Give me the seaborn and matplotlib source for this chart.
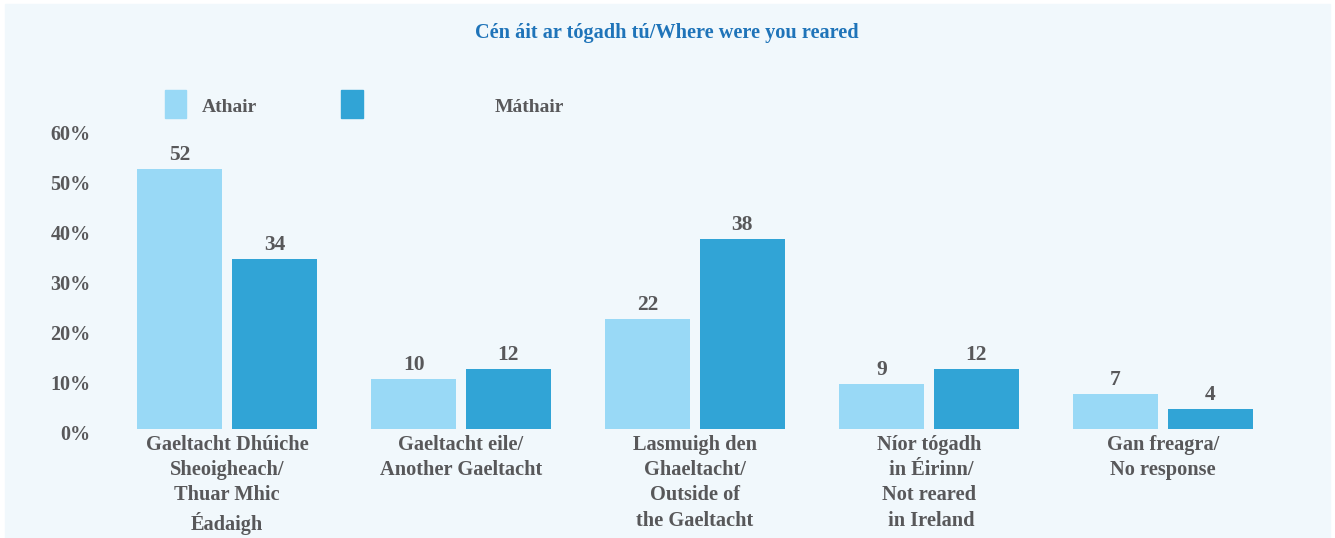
import pandas as pd
import seaborn as sns
import matplotlib.pyplot as plt
import matplotlib.transforms as mtransforms
from matplotlib.patches import Rectangle

categories = ['Gaeltacht Dhúiche\nSheoigheach/\nThuar Mhic\nÉadaigh',
              'Gaeltacht eile/\nAnother Gaeltacht',
              'Lasmuigh den\nGhaeltacht/\nOutside of\nthe Gaeltacht',
              'Níor tógadh\n in Éirinn/\nNot reared\n in Ireland',
              'Gan freagra/\nNo response']
athair = [52, 10, 22, 9, 7]
mathair = [34, 12, 38, 12, 4]
series = ['Athair', 'Máthair']
yticks = [0, 10, 20, 30, 40, 50, 60]

LIGHT = '#99d9f6'
DARK = '#31a4d6'
BG = '#f1f8fc'
GREY = '#58585a'
TITLE = '#1f74b9'
FS = 14

df = pd.DataFrame({
    'cat': categories * 2,
    'value': athair + mathair,
    'who': [series[0]] * len(athair) + [series[1]] * len(mathair),
})

sns.set_style('white')
plt.rcParams['font.family'] = ['Liberation Serif', 'DejaVu Serif']
plt.rcParams['font.weight'] = 'bold'

W, H = 1335, 538
fig = plt.figure(figsize=(W / 100, H / 100), dpi=100, facecolor='white')
# light panel behind everything
fig.patches.append(Rectangle((5 / W, 0), (1330 - 5) / W, (538 - 4) / H,
                             transform=fig.transFigure, color=BG, zorder=-5))

ax = fig.add_axes([110 / W, 109 / H, 1170 / W, 300 / H])
ax.set_facecolor('none')

sns.barplot(data=df, x='cat', y='value', hue='who', order=categories,
            hue_order=series, palette=[LIGHT, DARK], width=0.81, gap=0.105,
            saturation=1, linewidth=0, ax=ax, legend=False)

for cont in ax.containers:
    ax.bar_label(cont, fmt='%d', padding=3, fontsize=15.5, color=GREY,
                 fontweight='bold')

ax.set_xlim(-0.5, 4.5)
ax.set_ylim(0, 60)
ax.set_yticks(yticks)
ax.set_yticklabels([f'{t}%' for t in yticks], fontsize=14.5, color=GREY,
                   fontweight='bold')
ax.tick_params(axis='y', length=0, pad=14)
ax.tick_params(axis='x', length=0, pad=4)
ax.set_xticks(range(len(categories)))
ax.set_xticklabels(categories, fontsize=14.7, color=GREY, fontweight='bold',
                   linespacing=1.36, va='top', ha='center')
ax.set_xlabel('')
ax.set_ylabel('')
sns.despine(ax=ax, left=True, bottom=True)

# y tick labels sit a little below their gridline level in the reference
offset = mtransforms.ScaledTranslation(0, -3 / 100, fig.dpi_scale_trans)
for lab in ax.get_yticklabels():
    lab.set_transform(lab.get_transform() + offset)

fig.text(667 / W, 1 - 33 / H, 'Cén áit ar tógadh tú/Where were you reared',
         ha='center', va='center', fontsize=14.6, color=TITLE,
         fontweight='bold')

# legend
fig.patches.append(Rectangle((165 / W, 1 - 118 / H), 21 / W, 28 / H,
                             transform=fig.transFigure, color=LIGHT))
fig.patches.append(Rectangle((341 / W, 1 - 118 / H), 22 / W, 28 / H,
                             transform=fig.transFigure, color=DARK))
fig.text(202 / W, 1 - 108 / H, series[0], ha='left', va='center',
         fontsize=FS, color=GREY, fontweight='bold')
fig.text(495 / W, 1 - 108 / H, series[1], ha='left', va='center',
         fontsize=FS, color=GREY, fontweight='bold')

fig.savefig('out.png', dpi=100, facecolor='white')
